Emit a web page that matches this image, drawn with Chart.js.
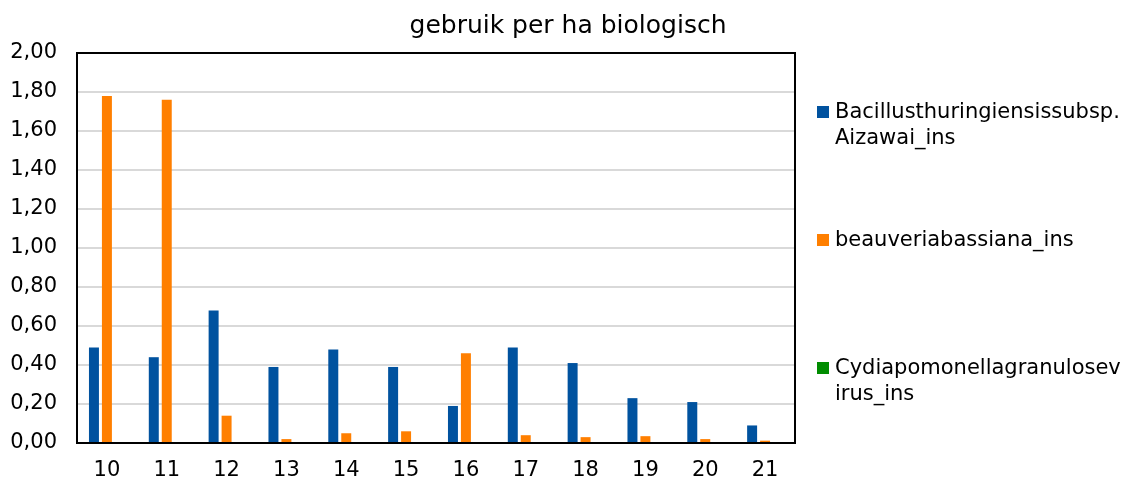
<!DOCTYPE html>
<html>
<head>
<meta charset="utf-8">
<script src="https://cdn.jsdelivr.net/npm/chart.js@4.4.1/dist/chart.umd.min.js"></script>
<style>
  body { margin: 0; background: #fff; }
  #wrap { width: 1126px; height: 485px; }
</style>
</head>
<body>
<div id="wrap"><canvas id="chart" width="1126" height="485"></canvas></div>
<script>
// --- data ---
const categories = ['10', '11', '12', '13', '14', '15', '16', '17', '18', '19', '20', '21'];
const bacillus  = [0.49, 0.44, 0.68, 0.39, 0.48, 0.39, 0.19, 0.49, 0.41, 0.23, 0.21, 0.09];
const beauveria = [1.78, 1.76, 0.14, 0.02, 0.05, 0.06, 0.46, 0.04, 0.03, 0.035, 0.02, 0.012];
const cydia     = [0, 0, 0, 0, 0, 0, 0, 0, 0, 0, 0, 0];
const seriesLines = [
    ['Bacillusthuringiensissubsp.', 'Aizawai_ins'],
    ['beauveriabassiana_ins'],
    ['Cydiapomonellagranulosev', 'irus_ins']
];
const chartTitle = 'gebruik per ha biologisch';
const yMin = 0, yMax = 2, yStep = 0.2;

const colors = ['#00529f', '#ff7f00', '#008c00'];
const FONT = '"DejaVu Sans", Verdana, sans-serif';

const mkSet = (lines, data, i) => ({
    label: lines.join(' '),
    data,
    backgroundColor: colors[i],
    borderWidth: 0,
    categoryPercentage: 0.65,
    barPercentage: 0.77
});

// --- title, frame and wrapped legend ---
const extras = {
    id: 'extras',
    afterDraw(chart) {
        const { ctx, chartArea: a } = chart;
        ctx.save();
        // frame round plot area
        ctx.strokeStyle = '#000';
        ctx.lineWidth = 2;
        ctx.strokeRect(a.left, a.top, a.right - a.left, a.bottom - a.top);

        // title
        ctx.fillStyle = '#000';
        ctx.font = '25px ' + FONT;
        ctx.textAlign = 'center';
        ctx.textBaseline = 'middle';
        ctx.fillText(chartTitle, 568, 26);

        // legend
        ctx.font = '21px ' + FONT;
        ctx.textAlign = 'left';
        const lx = a.right + 22, step = 128, lineH = 26;
        seriesLines.forEach((lines, i) => {
            const y0 = 112 + i * step;
            ctx.fillStyle = colors[i];
            ctx.fillRect(lx, y0 - 6, 12, 12);
            ctx.fillStyle = '#000';
            lines.forEach((t, j) => ctx.fillText(t, lx + 18, y0 + 1 + j * lineH));
        });
        ctx.restore();
    }
};

new Chart(document.getElementById('chart'), {
    type: 'bar',
    data: {
        labels: categories,
        datasets: [
            mkSet(seriesLines[0], bacillus, 0),
            mkSet(seriesLines[1], beauveria, 1),
            mkSet(seriesLines[2], cydia, 2)
        ]
    },
    options: {
        responsive: false,
        animation: false,
        layout: { padding: { top: 53, right: 331, left: 0, bottom: 0 } },
        plugins: {
            legend: { display: false },
            title: { display: false },
            tooltip: { enabled: false }
        },
        scales: {
            x: {
                afterFit: s => { s.height = 42; },
                grid: { display: false, drawTicks: false },
                border: { color: '#000', width: 2 },
                ticks: { color: '#000', font: { family: FONT, size: 21 }, padding: 15, maxRotation: 0 }
            },
            y: {
                min: yMin,
                max: yMax,
                afterFit: s => { s.width = 77; },
                grid: { color: '#d9d9d9', lineWidth: 2, drawTicks: false },
                border: { color: '#000', width: 2 },
                ticks: {
                    stepSize: yStep,
                    color: '#000',
                    padding: 20,
                    font: { family: FONT, size: 21 },
                    callback: v => v.toFixed(2).replace('.', ',')
                }
            }
        }
    },
    plugins: [extras]
});
</script>
</body>
</html>
